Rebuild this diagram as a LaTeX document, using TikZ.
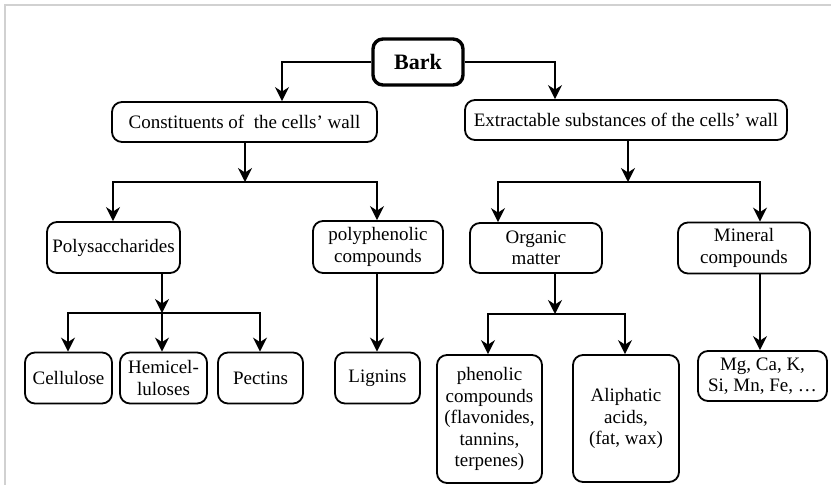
\documentclass[tikz,border=0pt]{standalone}
\usepackage{fontspec}
\setmainfont{Liberation Serif}
\usetikzlibrary{arrows.meta}
\begin{document}
\begin{tikzpicture}[x=1pt,y=-1pt,
  box/.style={draw, line width=1.8pt, rounded corners=10pt, align=center, inner sep=0pt,
    font=\fontsize{19}{21.5}\selectfont},
  conn/.style={line width=1.7pt},
  arr/.style={conn, -{Stealth[length=14pt,width=14pt,inset=4.5pt]}},
  barr/.style={conn, {Stealth[length=14pt,width=14pt,inset=4.5pt]}-{Stealth[length=14pt,width=14pt,inset=4.5pt]}}]
\useasboundingbox (0,0) rectangle (831,485);
\draw[black!18, line width=2pt] (5,485) -- (5,5) -- (831,5);

% nodes
\node[box, line width=3.4pt, minimum width=90pt, minimum height=46pt,
  font=\bfseries\fontsize{22}{24}\selectfont] (bark) at (418,62) {Bark};
\node[box, minimum width=265pt, minimum height=40pt] (cons) at (244.5,122) {Constituents of\ \ the cells’ wall};
\node[box, minimum width=322pt, minimum height=40pt] (extr) at (626,120) {Extractable substances of the cells’ wall};

\node[box, minimum width=133pt, minimum height=51pt] (poly) at (113.5,247.5) {Polysaccharides};
\node[box, minimum width=130pt, minimum height=52pt] (polyph) at (378,247) {polyphenolic\\compounds};
\node[box, minimum width=132pt, minimum height=50pt] (org) at (536,248) {Organic\\matter};
\node[box, minimum width=132pt, minimum height=51pt] (mine) at (744,248) {Mineral\\compounds};

\node[box, minimum width=87pt, minimum height=51pt] (cell) at (68.5,378) {Cellulose};
\node[box, minimum width=87pt, minimum height=51pt] (hemi) at (163.5,378) {Hemicel-\\luloses};
\node[box, minimum width=85pt, minimum height=51pt] (pect) at (260.5,378) {Pectins};
\node[box, minimum width=85pt, minimum height=51pt] (lign) at (377.5,378) {Lignins};

\node[box, minimum width=105pt, minimum height=128pt] (phen) at (489.5,419) {phenolic\\compounds\\(flavonides,\\tannins,\\terpenes)};
\node[box, minimum width=106pt, minimum height=127pt] (alip) at (626,418.5) {Aliphatic\\acids,\\(fat, wax)};
\node[box, minimum width=129pt, minimum height=50pt] (mg) at (762.5,376) {Mg, Ca, K,\\Si, Mn, Fe, …};

% junction coordinates
\coordinate (j1) at (245,182);
\coordinate (j1L) at (113,182);
\coordinate (j1R) at (377,182);
\coordinate (j2) at (628,182);
\coordinate (j2L) at (498,182);
\coordinate (j2R) at (760,182);
\coordinate (j3) at (162,313);
\coordinate (j3L) at (68,313);
\coordinate (j3R) at (260,313);
\coordinate (j4) at (555,314);
\coordinate (j4L) at (488,314);
\coordinate (j4R) at (625,314);

% connectors
\draw[arr] (bark.west) -| ([xshift=37.5pt]cons.north);
\draw[arr] (bark.east) -| ([xshift=-71pt]extr.north);

\draw[arr] (cons.south -| j1) -- (j1);
\draw[barr] (j1L |- poly.north) -- (j1L) -- (j1R) -- (j1R |- polyph.north);

\draw[arr] (extr.south -| j2) -- (j2);
\draw[barr] (j2L |- org.north) -- (j2L) -- (j2R) -- (j2R |- mine.north);

\draw[arr] (poly.south -| j3) -- (j3);
\draw[barr] (j3L |- cell.north) -- (j3L) -- (j3R) -- (j3R |- pect.north);
\draw[arr] (j3) -- (j3 |- hemi.north);

\draw[arr] (polyph.south -| j1R) -- (j1R |- lign.north);

\draw[arr] (org.south -| j4) -- (j4);
\draw[barr] (j4L |- phen.north) -- (j4L) -- (j4R) -- (j4R |- alip.north);

\draw[arr] (mine.south -| j2R) -- (j2R |- mg.north);
\end{tikzpicture}
\end{document}
